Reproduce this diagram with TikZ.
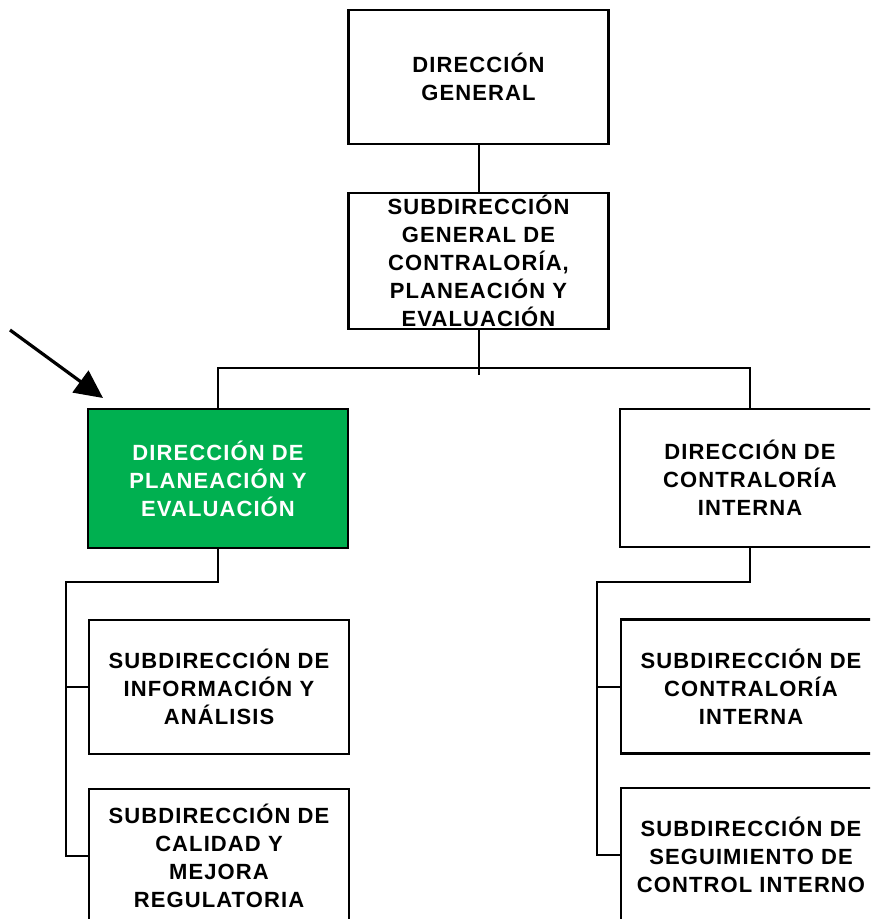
\documentclass[tikz,border=0pt]{standalone}
\usepackage{fontspec}
\setmainfont{Liberation Sans}[LetterSpace=5]
\usetikzlibrary{arrows.meta}

\definecolor{planverde}{RGB}{0,176,80}
\tikzset{every picture/.style={line width=1.5pt}}
\tikzset{
  orgtext/.style={align=center, inner sep=0pt, font=\fontsize{16.5}{21}\selectfont\bfseries},
  orgbox/.style={orgtext, draw, rectangle, line width=1.9pt, minimum width=195pt, minimum height=100.5pt},
}

\begin{document}
\begin{tikzpicture}[x=0.75pt,y=0.75pt,yscale=-1,xscale=1]
\useasboundingbox (0,0) rectangle (870,919);
\clip (0,0) rectangle (870,919);

%Shape: Rectangle (top)
\node [orgbox] (dg) at (478.5,77) {DIRECCIÓN\\GENERAL};
%Shape: Rectangle -- text runs over the border
\node [orgbox, minimum height=102pt, label={[orgtext]center:SUBDIRECCIÓN\\GENERAL DE\\CONTRALORÍA,\\PLANEACIÓN Y\\EVALUACIÓN}] (sgc) at (478.5,261) {};

%Shape: Rectangle (green)
\node [orgbox, fill=planverde, text=white, minimum height=104.25pt] (dpe) at (218,478.5) {DIRECCIÓN DE\\PLANEACIÓN Y\\EVALUACIÓN};
\node [orgbox, minimum height=103.5pt] (dci) at (750,478) {DIRECCIÓN DE\\CONTRALORÍA\\INTERNA};

%Shape: Rectangle (left column)
\node [orgbox] (sia) at (219,687) {SUBDIRECCIÓN DE\\INFORMACIÓN Y\\ANÁLISIS};
\node [orgbox] (scm) at (219,856) {SUBDIRECCIÓN DE\\CALIDAD Y\\MEJORA\\REGULATORIA};
%Shape: Rectangle (right column)
\node [orgbox] (sdci) at (751,686.5) {SUBDIRECCIÓN DE\\CONTRALORÍA\\INTERNA};
\node [orgbox] (ssci) at (751,855) {SUBDIRECCIÓN DE\\SEGUIMIENTO DE\\CONTROL INTERNO};

%Straight Lines
\coordinate (bus) at (479,368);
\coordinate (lt) at (66,582);
\coordinate (rt) at (597,582);
\draw (dg) -- (sgc);
\draw (sgc.south) -- ++(0,45);
\draw (dpe.north) |- (bus) -| (dci.north);
\draw (dpe.south) |- (lt) |- (scm.west);
\draw (lt |- sia.west) -- (sia.west);
\draw (dci.south) |- (rt) |- (ssci.west);
\draw (rt |- sdci.west) -- (sdci.west);

%Arrow pointing to the green box
\coordinate (arrtail) at (10,330);
\coordinate (arrtip) at (103,398);
\draw [line width=2.4pt, -{Triangle[length=21pt,width=20pt]}] (arrtail) -- (arrtip);

\end{tikzpicture}
\end{document}
